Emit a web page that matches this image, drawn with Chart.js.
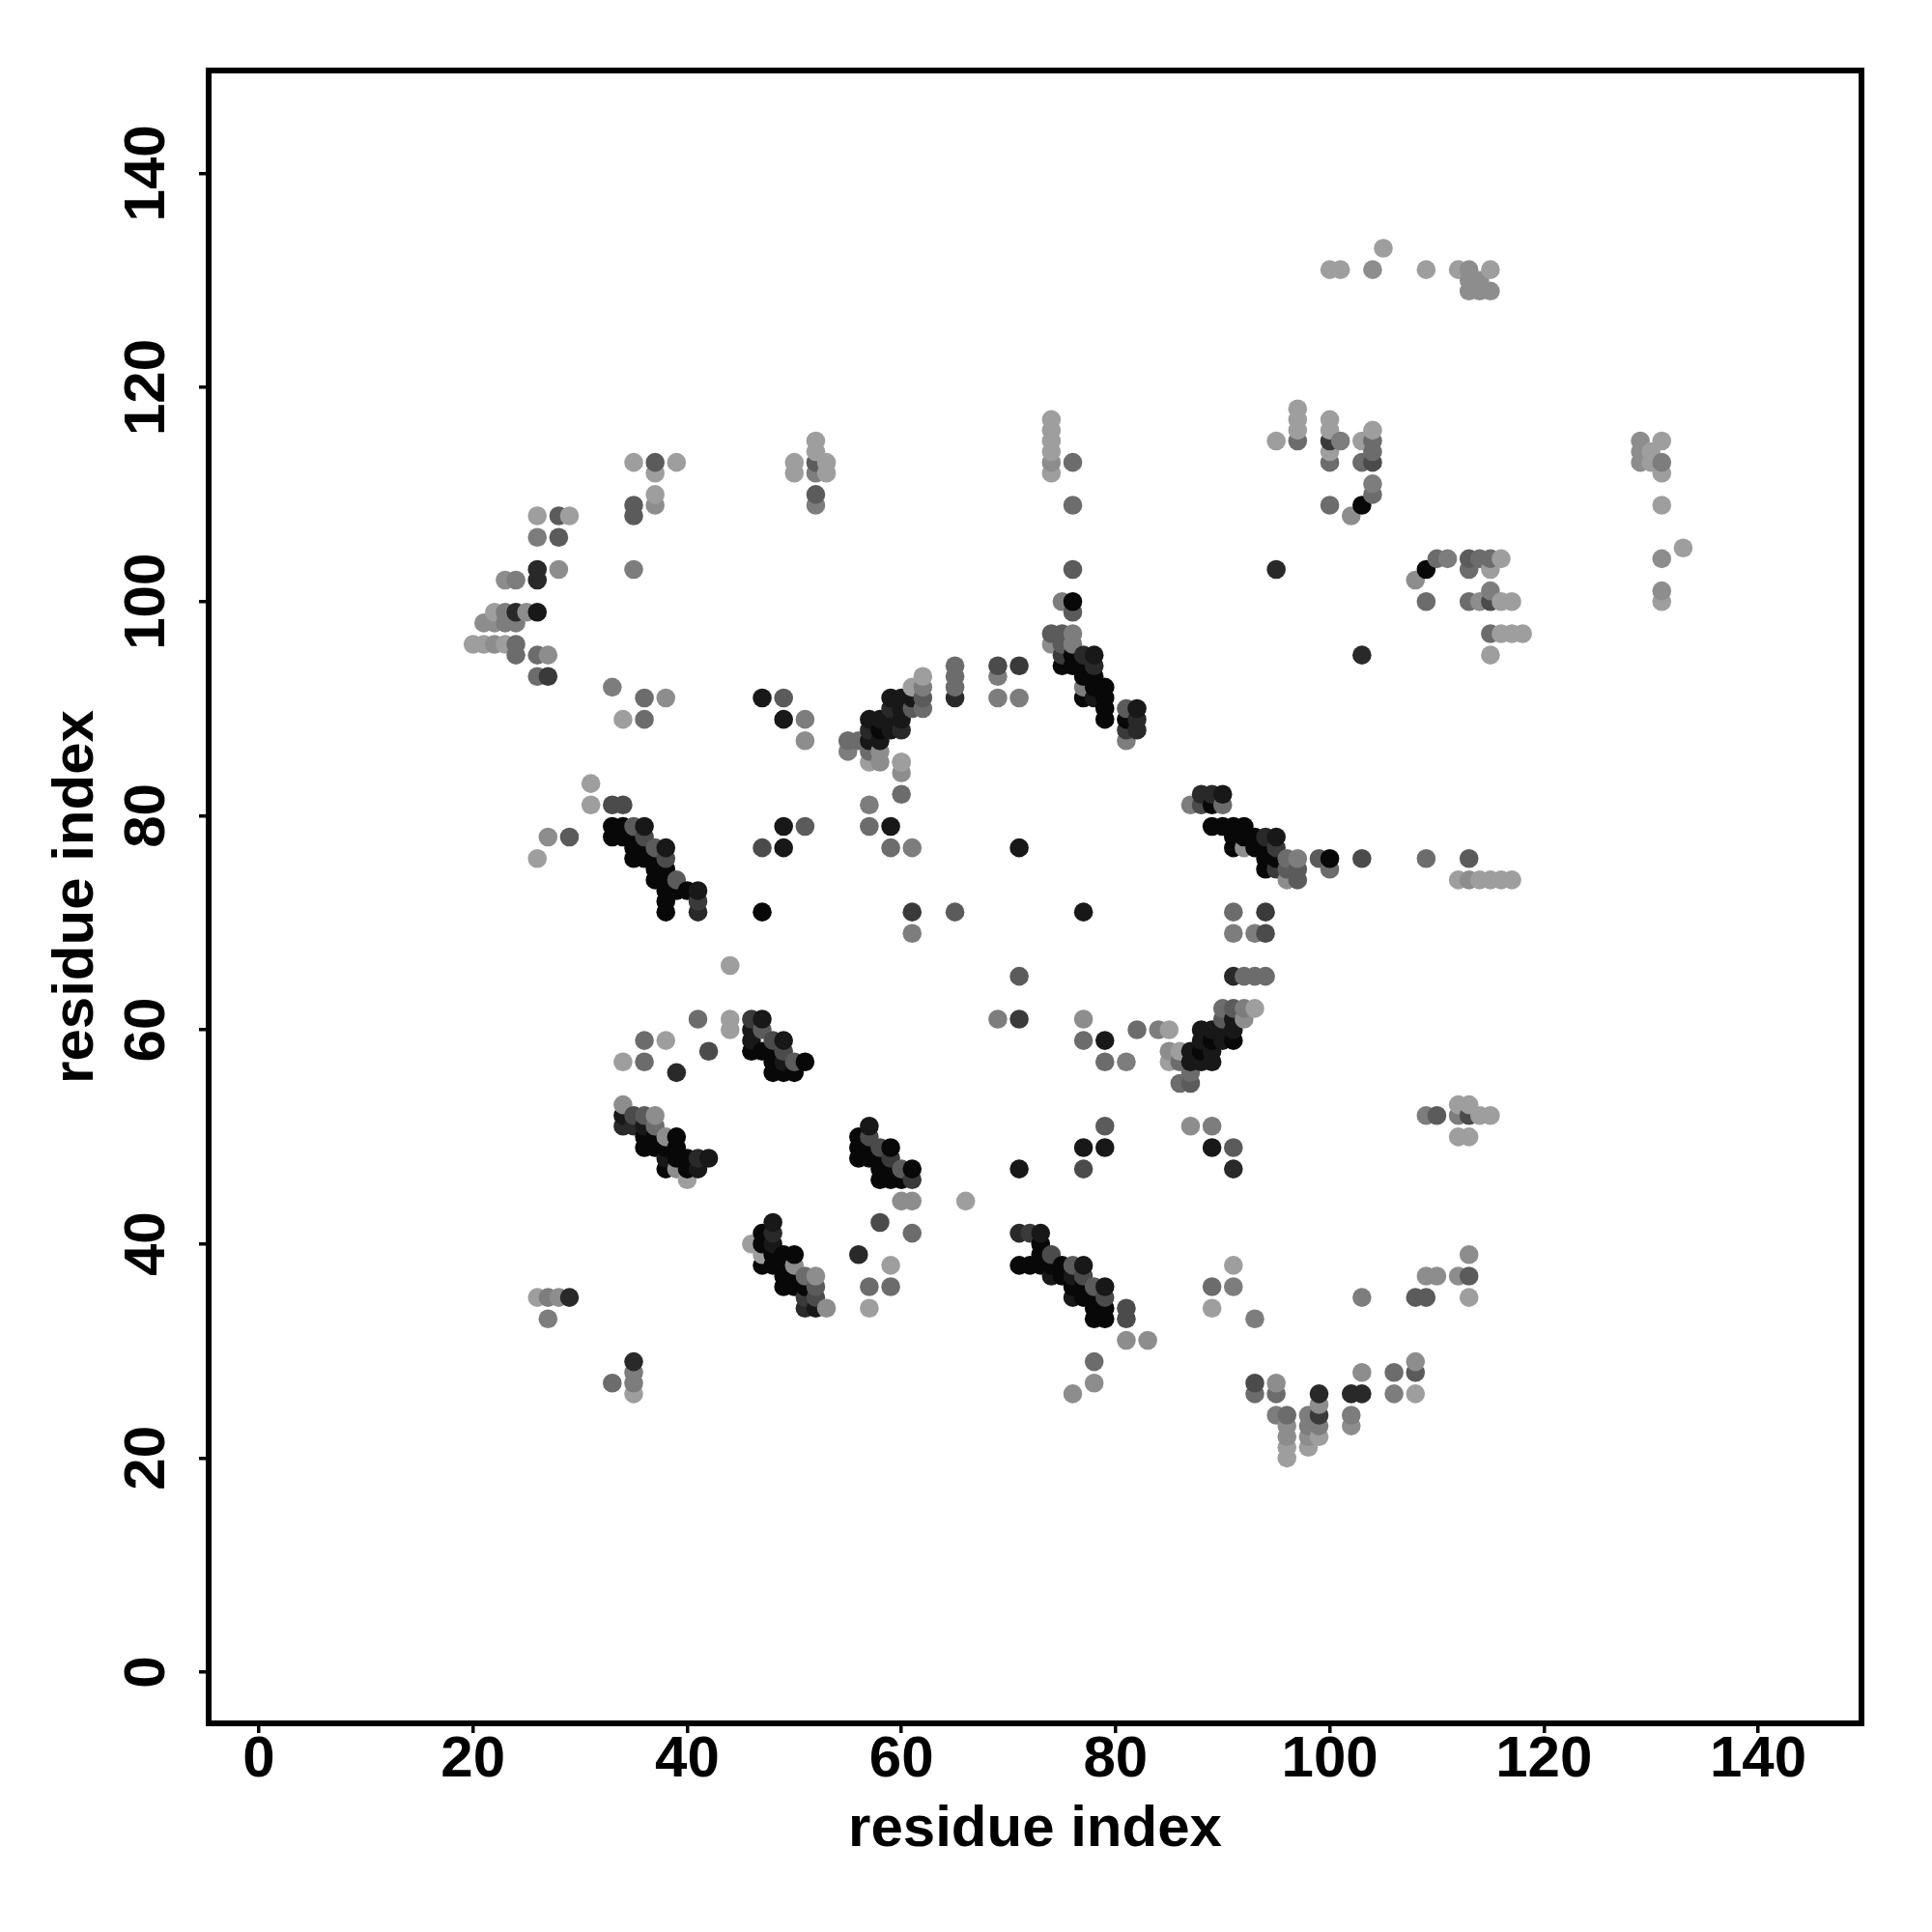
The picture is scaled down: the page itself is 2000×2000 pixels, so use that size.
<!DOCTYPE html>
<html>
<head>
<meta charset="utf-8">
<title>residue contact map</title>
<script src="https://cdn.jsdelivr.net/npm/chart.js@4"></script>
<style>
  html, body { margin: 0; padding: 0; background: #fff; }
  canvas { display: block; }
</style>
</head>
<body>
<canvas id="contactMap" width="2000" height="2000"></canvas>
<script>
const tickValues = [0, 20, 40, 60, 80, 100, 120, 140];
const axisLabel = "residue index";

// contact groups: residue i, residue j, strength (0 = weak .. 9 = strong)
const farTopX = [105, 100,101,104,109,112,113,115, 113,114, 113,114,115];
const farTopY = [133, 131,131,131,131,131,131,131, 130,130, 129,129,129];
const farTopS = [0, 0,0,1,0,0,1,0, 1,1, 1,1,1];

const column74X = [74,74,74,74,74,74, 76,76];
const column74Y = [117,116,115,114,113,112, 113,109];
const column74S = [0,0,0,0,1,0, 3,3];

const topMidX = [95, 97,97,97,97, 100,100,100,100,100,100, 101, 102, 103,103,103, 104,104,104,104,104,104];
const topMidY = [115, 118,117,116,115, 117,116,115,114,113,109, 115, 108, 115,113,109, 116,115,114,113,111,110];
const topMidS = [0, 0,0,0,3, 0,0,6,0,3,3, 2, 1, 0,3,9, 0,3,3,5,2,3];

const farRightX = [129,129,129,130,130,131,131,131,131,131,131,131,133];
const farRightY = [115,114,113,114,113,115,113,112,109,104,101,100,105];
const farRightS = [1,1,1,0,0,0,2,0,0,1,1,0,0];

const rightUpperX = [108,109,109,110,111,113,113,113,114,114,115,115,115,115,116,116,117, 115,116,117,118, 115, 103, 95];
const rightUpperY = [102,103,100,104,104,104,103,100,104,100,104,103,101,100,104,100,100, 97,97,97,97, 95, 95, 103];
const rightUpperS = [1,9,3,3,2,4,3,3,3,1,3,0,2,5,0,0,0, 3,0,0,0, 0, 7, 7];

const helixCX = [76, 75,76,76, 74,75,76, 74,75,76, 75,76,77,78, 75,76,77,78, 77,78, 77,78,79, 77,78,79, 79,81,82, 79,81,82, 81,82, 81];
const helixCY = [103, 100,100,99, 97,97,97, 96,96,96, 95,95,95,95, 94,94,94,94, 93,93, 92,92,92, 91,91,91, 90,90,90, 89,89,89, 88,88, 87];
const helixCS = [4, 2,9,4, 4,4,2, 1,4,2, 6,9,7,8, 9,9,9,7, 9,9, 2,9,9, 9,8,9, 9,4,8, 9,9,7, 6,7, 2];

const sideCX = [69,69,69,71,71];
const sideCY = [94,93,91,94,91];
const sideCS = [5,2,2,6,2];

const helixDX = [88,89,90, 87,88,89,90, 89,90,91,92, 91,92,93,94,95, 91,92,93,94,95, 94,95,96,97, 94,95,96,97, 96,97];
const helixDY = [82,82,82, 81,81,81,81, 79,79,79,79, 78,78,78,78,78, 77,77,77,77,77, 76,76,76,76, 75,75,75,75, 74,74];
const helixDS = [7,7,8, 2,5,9,3, 9,9,9,9, 9,9,9,7,8, 9,1,9,9,6, 9,9,3,2, 9,6,4,4, 1,4];

const rightTailX = [99,100,100,103,109,113,112,113,114,115,116,117];
const rightTailY = [76,76,75,76,76,76,74,74,74,74,74,74];
const rightTailS = [4,9,3,5,3,4,0,1,0,0,0,0];

const midRightX = [91,94,91,93,94,91,92,93,94];
const midRightY = [71,71,69,69,69,65,65,65,65];
const midRightS = [3,6,2,2,5,7,3,3,3];

const centreX = [71,77,71,69,71,77,77,79,79,81,82,84,85];
const centreY = [77,71,65,61,61,61,59,59,57,57,60,60,60];
const centreS = [8,8,4,2,6,1,3,8,3,2,3,2,0];

const helixEX = [90,91,92,93, 90,91,92, 88,89,90,91, 88,89,90,91, 85,86,87,88,89, 85,86,87,88,89, 87, 86,87];
const helixEY = [62,62,62,62, 61,61,61, 60,60,60,60, 59,59,59,59, 58,58,58,58,58, 57,57,57,57,57, 56, 55,55];
const helixES = [3,4,2,0, 4,8,1, 8,8,8,8, 8,9,8,9, 1,0,8,9,8, 0,3,8,8,8, 3, 3,4];

const lowerMidX = [79,87,89,77,79,89,91,71,77,91];
const lowerMidY = [51,51,51,49,49,49,49,47,47,47];
const lowerMidS = [4,1,2,8,8,8,4,8,5,7];

const helixJX = [71,72,73, 73, 73,74, 71,72,73,74,75,76,77, 74,75,76,77, 76,77,78,79, 76,77,78,79, 78,79,81, 78,79,81, 81,83, 78,78,76];
const helixJY = [41,41,41, 40, 39,39, 38,38,38,38,38,38,38, 37,37,37,37, 36,36,36,36, 35,35,35,35, 34,34,34, 33,33,33, 31,31, 29,27,26];
const helixJS = [7,6,8, 9, 9,5, 9,9,9,9,9,4,8, 8,9,8,5, 9,9,4,8, 8,9,9,5, 9,9,5, 9,9,5, 1,1, 3,1,1];

const lowerRightX = [91,89,91,89,93, 103,108,109,113, 109,110,112,113, 113];
const lowerRightY = [38,36,36,34,33, 35,35,35,35, 37,37,37,37, 39];
const lowerRightS = [0,3,2,0,2, 2,4,4,0, 1,1,1,4, 1];

const valleyX = [108, 103,106,108, 93,95, 93,95,99,102,103,106,108, 99, 95,96,98,99,102, 96,98,99,102, 96,98,99, 96,98, 96];
const valleyY = [29, 28,28,28, 27,27, 26,26,26,26,26,26,26, 25, 24,24,24,24,24, 23,23,23,23, 22,22,22, 21,21, 20];
const valleyS = [1, 1,3,4, 5,1, 3,3,7,7,7,2,0, 1, 2,3,2,6,2, 1,2,2,1, 1,1,0, 0,0, 0];

const right52X = [112,113,109,110,112,113,114,115,112,113];
const right52Y = [53,53,52,52,52,52,52,52,50,50];
const right52S = [0,0,2,4,2,5,0,0,0,0];

const helixAX = [33,34, 33,34,35,36, 33,34,35,36, 35,36,37,38, 35,36,37,38, 37,38, 37,38,39, 38,39,40,41, 38,41, 38,41];
const helixAY = [81,81, 79,79,79,79, 78,78,78,78, 77,77,77,77, 76,76,76,76, 75,75, 74,74,74, 73,73,73,73, 72,72, 71,71];
const helixAS = [5,5, 9,9,4,8, 9,9,9,5, 9,9,4,8, 9,9,9,5, 9,9, 9,9,4, 9,9,9,8, 9,6, 9,7];

const leftSideX = [27,29,26,31,31];
const leftSideY = [78,78,76,81,83];
const leftSideS = [1,4,0,0,0];

const leftMidX = [36,38,47,49, 34,36,49,51, 33, 51, 49,51,57,59, 47,49,59,61, 57, 60,60,60, 47,61,65, 61, 44];
const leftMidY = [91,91,91,91, 89,89,89,89, 92, 87, 79,79,79,79, 77,77,77,77, 81, 82,84,85, 71,71,71, 69, 66];
const leftMidS = [3,1,8,4, 0,3,8,2, 2, 1, 8,4,3,8, 5,8,3,2, 2, 3,1,0, 9,6,4, 2, 0];

const helixBX = [62,61,62,61,59,60,62,59,60,61,62,57,58,59,60,57,58,59,60,55,56,57,58,55,57,58,57,58,60, 65,65,65,65];
const helixBY = [93,92,92,91,91,91,91,90,90,90,90,89,89,89,89,88,88,88,88,87,87,87,87,86,86,86,85,85,85, 94,93,92,91];
const helixBS = [0,0,2,8,8,8,4,7,8,4,3,8,8,8,8,7,9,8,7,3,3,8,8,2,3,1,0,1,0, 3,3,3,7];

const topLeftX = [26,28,29, 26,28, 26,28,35, 23,24,26, 22,23,24,25,26, 21,22,23,24, 20,21,22,23,24, 24,26,27, 26,27];
const topLeftY = [108,108,108, 106,106, 103,103,103, 102,102,102, 99,99,99,99,99, 98,98,98,98, 96,96,96,96,96, 95,95,95, 93,93];
const topLeftS = [0,4,0, 2,4, 7,1,2, 1,2,7, 0,2,7,1,8, 1,1,2,2, 0,0,1,0,3, 3,3,1, 3,6];

const upperLeftX = [35,37,39,37,37,35,37,35, 52,52,50,52,53,50,52,53,52,52];
const upperLeftY = [113,113,113,112,110,109,109,108, 115,114,113,113,113,112,112,112,110,109];
const upperLeftS = [0,4,0,0,0,4,1,4, 0,0,0,4,0,0,2,0,4,2];

const nearFX = [41,44,44,36,38,42,34,36,39];
const nearFY = [61,61,60,59,59,58,57,57,56];
const nearFS = [3,0,0,3,0,5,0,3,7];

const helixFX = [46,47, 46,47, 46,48,49, 46,47,48,49, 48,49,50,51, 48,49,50];
const helixFY = [61,61, 60,60, 59,59,59, 58,58,58,58, 57,57,57,57, 56,56,56];
const helixFS = [6,8, 8,4, 8,5,8, 9,9,9,5, 9,8,4,9, 9,9,9];

const helixGX = [34, 34,35,36,37, 34,35,36,37, 36,37,38,39, 36,37,38,39, 38,39,40,41,42, 38,39,40,41, 40];
const helixGY = [53, 52,52,52,52, 51,51,51,51, 50,50,50,50, 49,49,49,49, 48,48,48,48,48, 47,47,47,47, 46];
const helixGS = [1, 8,5,4,1, 7,7,8,3, 9,9,1,9, 9,9,9,9, 8,9,9,7,8, 9,1,9,8, 0];

const helixHX = [57, 56,57, 56,57,58,59, 56,57,58,59, 58,59,60,61, 58,59,60,61, 60,61,66];
const helixHY = [51, 50,50, 49,49,49,49, 48,48,48,48, 47,47,47,47, 46,46,46,46, 44,44,44];
const helixHS = [8, 9,5, 9,9,5,9, 9,9,9,6, 9,9,4,9, 9,9,9,6, 1,1,0];

const nearIX = [58,61,56,59,57,59,57];
const nearIY = [42,41,39,38,36,36,34];
const nearIS = [5,3,7,0,3,3,0];

const helixIX = [48, 47,48, 46,47,48, 47,48,49,50, 47,48,49,50, 49,50,51,52, 49,50,51,52, 51,52, 51,52,53];
const helixIY = [42, 41,41, 40,40,40, 39,39,39,39, 38,38,38,38, 37,37,37,37, 36,36,36,36, 35,35, 34,34,34];
const helixIS = [8, 9,7, 0,9,8, 0,9,9,9, 9,9,9,1, 9,9,3,1, 9,9,9,4, 6,5, 7,8,1];

const lowerLeftX = [26,27,28,29,27,35,35,35,35,33];
const lowerLeftY = [35,35,35,35,33,29,28,27,26,27];
const lowerLeftS = [0,2,1,7,2,7,2,2,0,3];

const contactGroups = [
  [farTopX, farTopY, farTopS], [column74X, column74Y, column74S], [topMidX, topMidY, topMidS],
  [farRightX, farRightY, farRightS], [rightUpperX, rightUpperY, rightUpperS], [helixCX, helixCY, helixCS],
  [sideCX, sideCY, sideCS], [helixDX, helixDY, helixDS], [rightTailX, rightTailY, rightTailS],
  [midRightX, midRightY, midRightS], [centreX, centreY, centreS], [helixEX, helixEY, helixES],
  [lowerMidX, lowerMidY, lowerMidS], [helixJX, helixJY, helixJS], [lowerRightX, lowerRightY, lowerRightS],
  [valleyX, valleyY, valleyS], [right52X, right52Y, right52S], [helixAX, helixAY, helixAS],
  [leftSideX, leftSideY, leftSideS], [leftMidX, leftMidY, leftMidS], [helixBX, helixBY, helixBS],
  [topLeftX, topLeftY, topLeftS], [upperLeftX, upperLeftY, upperLeftS], [nearFX, nearFY, nearFS],
  [helixFX, helixFY, helixFS], [helixGX, helixGY, helixGS], [helixHX, helixHY, helixHS],
  [nearIX, nearIY, nearIS], [helixIX, helixIY, helixIS], [lowerLeftX, lowerLeftY, lowerLeftS],
];

// flatten, then sort by i then j so the overlaps stack like the original
const points = [];
contactGroups.forEach(([xs, ys, ss]) => {
  xs.forEach((x, i) => points.push({ x: x, y: ys[i], s: ss[i] }));
});
points.sort((a, b) => a.x - b.x || a.y - b.y);

function strengthColor(s) {
  const g = Math.round(158 - s * 16.7);
  return `rgb(${g},${g},${g})`;
}

const frameBox = {
  id: "frameBox",
  afterDraw(chart) {
    const { ctx, chartArea } = chart;
    ctx.save();
    ctx.strokeStyle = "#000";
    ctx.lineWidth = 6;
    ctx.strokeRect(chartArea.left, chartArea.top, chartArea.width, chartArea.height);
    ctx.restore();
  },
};

const axisFont = { family: "'Liberation Sans'", size: 60, weight: "bold" };

function axisOptions(min, max, rotation) {
  return {
    type: "linear",
    min: min,
    max: max,
    afterBuildTicks: (scale) => {
      scale.ticks = tickValues.map((v) => ({ value: v }));
    },
    border: { display: false },
    grid: {
      drawOnChartArea: false,
      color: "#000",
      lineWidth: 3.5,
      tickLength: 10,
    },
    ticks: {
      color: "#000",
      font: axisFont,
      autoSkip: false,
      minRotation: rotation,
      maxRotation: rotation,
      callback: (v) => String(v),
    },
    title: {
      display: true,
      text: axisLabel,
      color: "#000",
      font: axisFont,
    },
  };
}

const xAxis = axisOptions(-4.69, 149.65, 0);
xAxis.ticks.padding = -8;
xAxis.title.padding = { top: 0, bottom: 70 };
xAxis.afterFit = (scale) => { scale.height = 216; };

const yAxis = axisOptions(-4.78, 149.6, 90);
yAxis.ticks.padding = 2;
yAxis.ticks.crossAlign = "center";
yAxis.title.padding = { top: 43, bottom: 0 };
yAxis.afterFit = (scale) => { scale.width = 216; };

new Chart(document.getElementById("contactMap").getContext("2d"), {
  type: "scatter",
  data: {
    datasets: [
      {
        data: points,
        pointRadius: 9.8,
        pointBorderWidth: 0,
        pointBackgroundColor: points.map((p) => strengthColor(p.s)),
      },
    ],
  },
  options: {
    responsive: false,
    animation: false,
    devicePixelRatio: 1,
    layout: { padding: { left: 0, top: 73, right: 73, bottom: 0 } },
    plugins: { legend: { display: false }, tooltip: { enabled: false } },
    scales: { x: xAxis, y: yAxis },
  },
  plugins: [frameBox],
});
</script>
</body>
</html>
